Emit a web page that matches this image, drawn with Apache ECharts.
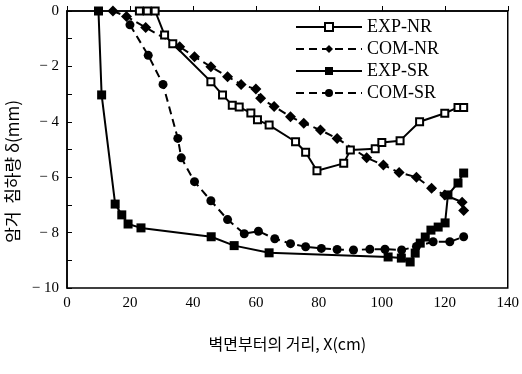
<!DOCTYPE html>
<html><head><meta charset="utf-8">
<script src="https://cdn.jsdelivr.net/npm/echarts@6/dist/echarts.min.js"></script>
<style>html,body{margin:0;padding:0;background:#fff}#c{width:522px;height:374px}</style>
</head><body><div id="c"></div>
<script>
const seriesNames = ['EXP-NR', 'COM-NR', 'EXP-SR', 'COM-SR'];
const expNR = [[23,0],[25.5,0],[28,0],[31,-0.87],[33.6,-1.18],[45.7,-2.55],[49.4,-3.03],[52.5,-3.4],[54.7,-3.47],[58.4,-3.68],[60.5,-3.93],[64.2,-4.12],[72.6,-4.72],[75.8,-5.1],[79.4,-5.77],[87.9,-5.5],[90,-5.02],[97.9,-4.97],[100,-4.75],[105.8,-4.68],[112,-4.0],[120,-3.69],[124.2,-3.48],[126,-3.48]];
const comNR = [[14.6,0],[18.9,-0.2],[25,-0.6],[35.8,-1.29],[40.5,-1.65],[45.7,-2.01],[51,-2.37],[55.3,-2.65],[60,-2.82],[61.5,-3.15],[65.8,-3.45],[71,-3.82],[75.2,-4.05],[80.5,-4.3],[85.8,-4.6],[95.2,-5.3],[100.5,-5.56],[105.5,-5.83],[111,-6.0],[115.8,-6.4],[120,-6.64],[125.5,-6.9],[126,-7.2]];
const expSR = [[10,0],[11,-3.03],[15.3,-6.97],[17.4,-7.36],[19.4,-7.69],[23.5,-7.83],[45.8,-8.15],[53.1,-8.47],[64.2,-8.73],[102,-8.88],[106.2,-8.92],[109,-9.06],[110.6,-8.74],[112.2,-8.38],[113.8,-8.16],[115.6,-7.91],[117.9,-7.8],[120.1,-7.65],[121,-6.64],[124.2,-6.21],[126,-5.85]];
const comSR = [[20,-0.5],[25.8,-1.6],[30.5,-2.65],[35.2,-4.6],[36.3,-5.3],[40.5,-6.16],[45.7,-6.85],[51,-7.53],[56.3,-8.04],[60.8,-7.95],[66,-8.22],[71,-8.4],[75.8,-8.51],[80.8,-8.57],[85.8,-8.61],[91,-8.63],[96.2,-8.6],[101,-8.6],[106.3,-8.63],[111,-8.5],[116.3,-8.33],[121.6,-8.33],[126,-8.15]];
const xName = '벽면부터의 거리, X(cm)';
const yName = '암거  침하량 δ(mm)';

const chart = echarts.init(document.getElementById('c'));
const serif = '"Liberation Serif","DejaVu Serif",serif';
const base = (name, data, dashed, symbol, size, fill) => ({
  name, type: 'line', data, symbol, symbolSize: size,
  lineStyle: { color: '#000', width: 2, type: dashed ? [8, 5] : 'solid' },
  itemStyle: { color: fill, borderColor: '#000', borderWidth: fill === '#fff' ? 2 : 0 },
  emphasis: { disabled: true }, animation: false
});
chart.setOption({
  animation: false,
  grid: { left: 67, right: 12, top: 11, bottom: 86, show: true, borderColor: '#000', borderWidth: 1.5 },
  legend: {
    orient: 'vertical', left: 290, top: 13, itemWidth: 66, itemHeight: 10, itemGap: 4,
    textStyle: { fontFamily: serif, fontSize: 18, color: '#000' },
    data: seriesNames
  },
  xAxis: {
    type: 'value', min: 0, max: 140, interval: 20,
    name: xName, nameLocation: 'middle', nameGap: 48,
    nameTextStyle: { fontFamily: '"Noto Sans CJK KR",sans-serif', fontSize: 16, color: '#000' },
    axisLine: { show: true, lineStyle: { color: '#000', width: 1.5 } },
    axisTick: { inside: true, length: 5, lineStyle: { color: '#000' } },
    axisLabel: { fontFamily: serif, fontSize: 15, color: '#000', margin: 8 },
    splitLine: { show: false }
  },
  yAxis: {
    type: 'value', min: -10, max: 0, interval: 2,
    axisLine: { show: true, lineStyle: { color: '#000', width: 1.5 } },
    axisTick: { inside: true, length: 5, lineStyle: { color: '#000' } },
    minorTick: { show: true, splitNumber: 2, length: 5, lineStyle: { color: '#000' } },
    axisLabel: { fontFamily: serif, fontSize: 15, color: '#000', margin: 8,
      formatter: v => v < 0 ? '\u2212 ' + Math.abs(v) : String(v) },
    splitLine: { show: false }
  },
  graphic: [{
    type: 'text', left: 4, top: 100, rotation: Math.PI / 2,
    style: { text: yName, font: '17px "Noto Sans CJK KR",sans-serif', fill: '#000' }
  }],
  series: [
    base(seriesNames[0], expNR, false, 'rect', 7, '#fff'),
    base(seriesNames[1], comNR, true, 'diamond', 11, '#000'),
    base(seriesNames[2], expSR, false, 'rect', 9, '#000'),
    base(seriesNames[3], comSR, true, 'circle', 9, '#000')
  ]
});
</script></body></html>
